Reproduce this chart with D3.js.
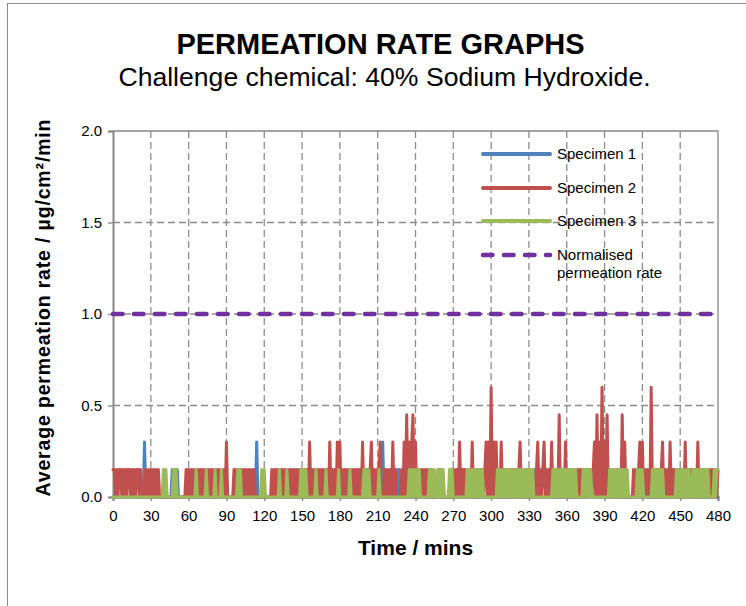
<!DOCTYPE html>
<html><head><meta charset="utf-8">
<script src="https://cdn.jsdelivr.net/npm/d3@7"></script>
<style>
body{margin:0;background:#fff;}
svg text{font-family:"Liberation Sans",Arial,Helvetica,sans-serif;fill:#000;}
</style>
</head><body>
<svg id="chart" width="746" height="606"></svg>
<script>
// ---------- DATA ----------
const titleText = "PERMEATION RATE GRAPHS";
const subtitleText = "Challenge chemical: 40% Sodium Hydroxide.";
const xTicks = [0,30,60,90,120,150,180,210,240,270,300,330,360,390,420,450,480];
const yTicks = [0,0.5,1.0,1.5,2.0];
const seriesNames = ["Specimen 1","Specimen 2","Specimen 3"];
const normalisedName = ["Normalised","permeation rate"];
const normalisedRate = [1.0, 1.0];          // at t = 0 and t = 480
const normalisedTimes = [0, 480];

// readings every minute, t = 0 .. 480
const specimen1 = [
0,0,0,0,0,0,0,0,0,0,0,0,0,0,0,0,0,0,0,0,
0,0,0,0,0,.3,0,0,0,0,0,0,0,0,0,0,0,0,0,0,
0,0,0,0,0,0,0,.15,0,.15,0,.15,0,0,0,0,0,0,0,0,
0,0,0,0,0,0,0,0,0,0,0,0,0,0,0,0,0,0,0,0,
0,0,0,0,0,0,0,0,0,0,0,0,0,0,0,0,0,0,0,0,
0,0,0,0,0,0,0,0,0,0,0,0,0,0,.3,0,0,0,0,0,
0,0,0,0,0,0,0,0,0,0,0,0,0,0,0,0,0,0,0,0,
0,0,0,0,0,0,0,0,0,0,0,0,0,0,0,0,0,0,0,0,
0,0,0,0,0,0,0,0,0,0,0,0,0,0,0,0,0,0,0,0,
0,0,0,0,0,0,0,0,0,0,0,0,0,0,0,0,0,0,0,0,
0,0,0,0,0,0,0,0,0,0,0,0,0,0,.3,0,0,0,0,0,
0,0,0,0,0,.15,0,.15,0,0,0,0,0,0,0,0,0,0,0,0,
0,0,0,0,0,0,0,0,0,0,0,0,0,0,0,0,0,0,0,.15,
0,0,0,0,0,0,0,0,0,0,0,0,0,0,0,0,0,0,.15,0,
0,0,0,0,0,0,0,0,0,0,0,0,0,0,0,0,0,0,0,0,
0,0,0,0,0,0,0,0,0,0,0,0,0,0,0,0,0,0,0,0,
0,0,0,0,0,0,0,0,0,0,0,0,0,.15,0,.15,0,0,0,0,
0,0,0,0,0,0,0,0,0,0,0,0,0,0,0,0,0,0,0,0,
0,0,0,0,0,0,0,0,0,0,0,0,0,0,0,0,0,0,0,.15,
0,0,0,0,0,0,0,0,0,0,0,0,0,0,0,0,0,0,0,0,
0,0,0,0,0,0,0,0,0,0,0,0,0,0,0,0,0,0,0,0,
0,0,0,0,0,0,0,0,0,0,0,0,0,0,0,0,0,0,0,0,
0,0,0,0,0,0,.15,0,0,0,0,0,0,0,0,0,0,0,0,0,
0,0,0,0,0,0,0,0,0,0,0,0,0,0,0,0,0,0,0,0,
0];

const specimen2 = [
.15,.15,0,.15,0,.15,.15,0,.15,0,.15,0,.15,.15,0,.15,0,.15,0,.15,
.15,0,.15,0,0,0,.15,0,.15,0,.15,0,.15,0,.15,0,.15,0,0,0,
0,0,0,0,0,0,0,0,0,0,0,0,0,0,0,0,0,0,.15,0,
.15,0,.15,0,.15,0,.15,0,.15,0,.15,0,.15,0,.15,0,.15,0,.15,0,
.15,0,.15,0,.15,0,.15,0,.15,0,.3,0,0,0,0,0,.15,0,.15,0,
.15,0,.15,0,.15,0,.15,0,.15,0,.15,0,.15,0,0,0,0,0,0,0,
0,0,0,0,0,0,.15,0,.15,0,.15,0,.15,0,.15,0,.15,0,.15,0,
.15,0,.15,0,.15,0,.15,0,.15,0,.15,0,.15,0,.15,0,.3,0,.15,0,
.15,0,.15,0,.15,0,.15,0,.15,0,.15,0,.3,0,.15,0,.15,0,.3,0,
.3,0,.15,0,.15,0,.15,0,.15,0,.15,0,.15,0,.15,0,.15,0,.3,0,
.15,0,.15,0,.15,.3,0,.15,0,.15,0,.15,.3,0,0,0,.15,0,.15,0,
.15,0,.3,0,.15,0,0,0,0,.15,0,.3,0,.45,0,.3,0,.3,.45,0,
.3,0,.15,0,.15,0,.15,0,.15,0,.15,0,.15,0,0,0,0,0,.15,0,
.15,0,0,0,0,0,0,0,0,.15,0,.15,0,.15,0,.3,0,.15,0,.15,
0,.15,0,.15,0,.3,0,.15,0,.15,0,.15,0,.15,0,.15,.3,0,.3,0,
.6,0,.3,0,.3,0,.15,0,.3,0,.15,0,.15,0,.15,0,.15,0,.15,0,
.15,0,.15,.3,0,.15,0,.15,0,.15,0,.15,0,0,0,0,.15,.3,0,.15,
0,.15,.3,0,.15,0,.15,0,.3,0,.15,0,.15,0,.45,0,.15,0,0,.3,
0,.15,0,.15,0,.15,0,.15,0,.15,0,.15,0,.15,0,.15,0,.15,0,.15,
0,.15,.3,0,.45,0,.3,0,.6,0,.3,0,.45,0,.15,0,.15,0,.15,0,
.15,0,.15,0,.45,0,.3,0,0,0,0,0,0,.15,0,.15,0,.15,.3,0,
.3,0,.15,0,.15,0,0,.6,0,.15,0,.15,0,.15,0,.15,.3,0,.15,0,
.15,0,.3,0,.15,0,.15,0,.15,0,.15,0,.15,0,.3,0,.15,0,.15,0,
.15,0,.15,0,.3,0,.15,0,.15,0,.15,0,.15,0,.15,0,.15,0,.15,0,
.15];

const specimen3 = [
0,0,0,0,0,0,0,0,0,0,0,0,0,0,0,0,0,0,0,0,
0,0,0,0,0,0,0,0,0,0,0,0,0,0,0,0,0,0,0,0,
.15,0,.15,0,0,0,0,0,.15,0,.15,0,0,0,0,0,0,0,0,0,
0,0,0,0,0,0,.15,0,0,0,0,0,0,0,.15,0,0,0,0,0,
0,.15,0,0,0,0,.15,0,0,0,0,0,0,0,0,0,0,0,0,.15,
0,.15,0,0,0,0,0,0,0,0,0,0,0,0,0,0,0,0,.15,0,
.15,0,0,0,0,0,0,0,0,0,0,0,.15,0,0,0,0,0,.15,0,
0,0,0,0,0,0,0,0,0,.15,0,.15,0,.15,0,0,0,0,0,0,
0,.15,0,0,0,0,0,0,0,.15,0,0,0,0,0,0,0,0,0,.15,
0,0,0,0,0,0,0,0,.15,0,0,0,0,0,0,0,0,0,0,.15,
0,.15,0,.15,0,0,0,0,0,0,0,.15,0,0,0,0,0,0,0,0,
0,0,0,0,0,0,0,0,0,0,0,0,0,0,0,.15,0,.15,0,.15,
0,.15,0,.15,0,0,0,0,0,0,0,.15,0,.15,0,.15,0,0,.15,0,
.15,0,.15,0,0,0,0,.15,0,.15,0,0,0,0,0,0,0,0,0,0,
0,.15,0,.15,0,.15,0,.15,0,.15,0,.15,0,.15,0,0,0,0,0,0,
0,0,0,0,0,.15,0,.15,0,.15,0,.15,0,.15,0,.15,0,.15,0,.15,
0,.15,0,.15,0,.15,0,.15,0,.15,0,.15,0,.15,0,0,0,0,0,0,
0,0,0,0,0,0,0,0,0,.15,0,.15,0,.15,0,.15,0,.15,0,.15,
0,.15,0,.15,0,.15,0,.15,0,0,0,0,0,.15,0,.15,0,.15,0,.15,
0,0,0,0,0,0,0,0,0,0,0,0,0,0,.15,0,.15,0,.15,0,
.15,0,.15,0,.15,0,.15,0,.15,0,0,0,0,0,0,0,.15,0,.15,0,
.15,0,0,0,0,0,0,0,.15,0,.15,0,.15,0,.15,0,.15,0,0,0,
0,0,0,0,0,0,0,.15,0,.15,0,.15,0,.15,0,.15,0,.15,0,0,
.15,0,.15,0,.15,0,.15,0,.15,0,.15,0,.15,0,0,0,0,.15,0,.15,
.15];

const seriesValues = [specimen1, specimen2, specimen3];
const seriesColors = ["#4F81BD","#C0504D","#9BBB59"];
const normalisedColor = "#7030A0";

// ---------- DRAW ----------
const svg = d3.select("#chart");
const plot = {left:113, right:718, top:131, bottom:497};
const x = d3.scaleLinear().domain([0,480]).range([plot.left, plot.right]);
const y = d3.scaleLinear().domain([0,2]).range([plot.bottom, plot.top]);
const gridColor = "#8c8c8c", axisColor = "#868686";

// outer chart border
svg.append("rect").attr("x",7.5).attr("y",3.5).attr("width",800).attr("height",700)
  .attr("fill","none").attr("stroke","#8c8c8c").attr("stroke-width",1);

// titles
svg.append("text").attr("x",380.5).attr("y",54).attr("text-anchor","middle")
  .style("font-size","29px").style("font-weight","bold").text(titleText);
svg.append("text").attr("x",384.5).attr("y",86).attr("text-anchor","middle")
  .style("font-size","26.6px").text(subtitleText);

// gridlines
const grid = svg.append("g");
grid.selectAll("line.h").data(yTicks.filter(d=>d>0 && d<2)).enter().append("line")
  .attr("x1",plot.left).attr("x2",plot.right).attr("y1",d=>y(d)).attr("y2",d=>y(d))
  .attr("stroke",gridColor).attr("stroke-width",1.3).attr("stroke-dasharray","7,4");
grid.selectAll("line.v").data(xTicks.filter(d=>d>0 && d<480)).enter().append("line")
  .attr("x1",d=>x(d)).attr("x2",d=>x(d)).attr("y1",plot.top).attr("y2",plot.bottom)
  .attr("stroke",gridColor).attr("stroke-width",1.3).attr("stroke-dasharray","7,4");
// plot area top / right border
grid.append("path")
  .attr("d",`M${plot.left},${y(2)}H${x(480)}V${plot.bottom}`)
  .attr("fill","none").attr("stroke",axisColor).attr("stroke-width",1.3);

// axes
const yAxis = svg.append("g").attr("transform",`translate(${plot.left},0)`)
  .call(d3.axisLeft(y).tickValues(yTicks).tickFormat(d3.format(".1f")).tickSize(5).tickPadding(6));
const xAxis = svg.append("g").attr("transform",`translate(0,${plot.bottom})`)
  .call(d3.axisBottom(x).tickValues(xTicks).tickFormat(d3.format("d")).tickSize(4).tickPadding(6));
[yAxis,xAxis].forEach(g=>{
  g.select(".domain").attr("stroke",axisColor).attr("stroke-width",2);
  g.selectAll(".tick line").attr("stroke",axisColor).attr("stroke-width",1.3);
  g.selectAll(".tick text").style("font-size","15px").attr("fill","#111")
   .style("font-family",'"Liberation Sans",Arial,sans-serif');
});
xAxis.selectAll(".tick text").attr("dy","0.9em");

// axis titles
svg.append("text").attr("x",415.5).attr("y",555).attr("text-anchor","middle")
  .style("font-size","21px").style("font-weight","bold").text("Time / mins");
svg.append("text").attr("transform","translate(50,308) rotate(-90)").attr("text-anchor","middle")
  .attr("textLength",377).attr("lengthAdjust","spacing")
  .style("font-size","19.5px").style("font-weight","bold")
  .text("Average permeation rate / µg/cm²/min");

// series lines
const minutes = d3.range(0, 481);
const line = d3.line().x((d,i)=>x(minutes[i])).y(d=>y(d));
const linesG = svg.append("g");
seriesValues.forEach((vals,k)=>{
  linesG.append("path").datum(vals).attr("d",line)
    .attr("fill","none").attr("stroke",seriesColors[k]).attr("stroke-width",3)
    .attr("stroke-linejoin","round").attr("stroke-linecap","round");
});
// normalised permeation rate
linesG.append("path").datum(normalisedRate)
  .attr("d",d3.line().x((d,i)=>x(normalisedTimes[i])).y(d=>y(d)))
  .attr("fill","none").attr("stroke",normalisedColor).attr("stroke-width",4.5)
  .attr("stroke-linecap","round").attr("stroke-dasharray","9.5,11.5");

// legend
const legend = svg.append("g");
const legY = [154,188,221,255];
seriesNames.forEach((n,k)=>{
  legend.append("line").attr("x1",483).attr("x2",550).attr("y1",legY[k]).attr("y2",legY[k])
    .attr("stroke",seriesColors[k]).attr("stroke-width",4).attr("stroke-linecap","round");
  legend.append("text").attr("x",557).attr("y",legY[k]+5).style("font-size","15px").text(n);
});
legend.append("line").attr("x1",483).attr("x2",550).attr("y1",legY[3]).attr("y2",legY[3])
  .attr("stroke",normalisedColor).attr("stroke-width",4.5)
  .attr("stroke-linecap","round").attr("stroke-dasharray","9.5,11.5");
legend.append("text").attr("x",557).attr("y",legY[3]+5).style("font-size","15px").text(normalisedName[0]);
legend.append("text").attr("x",557).attr("y",legY[3]+23).style("font-size","15px").text(normalisedName[1]);
</script>
</body></html>
